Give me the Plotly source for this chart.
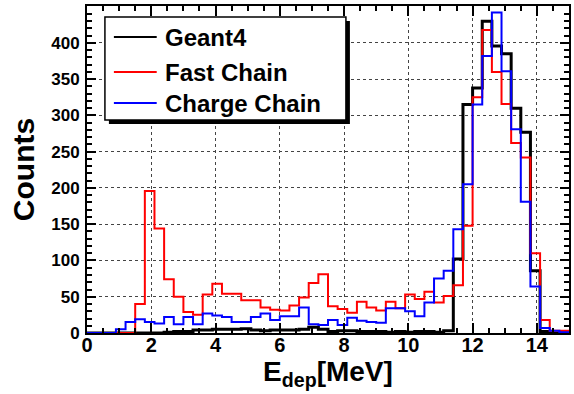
import numpy as np
import plotly.graph_objects as go

# 50 bins of 0.3 MeV from 0 to 15 MeV
bin_edges = np.linspace(0.0, 15.0, 51)

geant4 = [0, 0, 0, 0, 0, 0, 0, 0, 1, 2,
          2, 4, 4, 5, 5, 5, 6, 4, 3, 4,
          4, 4, 5, 8, 5, 2, 3, 3, 2, 2,
          2, 1, 2, 1, 2, 2, 1, 3, 102, 315,
          338, 430, 396, 385, 310, 277, 86, 2, 0, 0]

fast_chain = [0, 0, 0, 0, 0, 40, 196, 144, 74, 50,
              29, 25, 53, 68, 54, 54, 45, 45, 35, 32,
              31, 38, 49, 69, 81, 37, 33, 28, 43, 35,
              31, 43, 34, 53, 47, 57, 42, 51, 66, 148,
              325, 418, 360, 316, 262, 242, 110, 18, 3, 3]

charge_chain = [0, 0, 0, 5, 15, 19, 15, 13, 22, 12,
                22, 12, 27, 24, 22, 15, 15, 22, 27, 18,
                23, 23, 35, 12, 11, 18, 11, 21, 17, 15,
                14, 34, 34, 30, 23, 42, 75, 86, 143, 205,
                315, 382, 442, 361, 281, 181, 64, 7, 3, 1]

series = [
    ("Geant4", geant4, "black", 3),
    ("Fast Chain", fast_chain, "#ff0000", 2),
    ("Charge Chain", charge_chain, "#0000ff", 2),
]

W, H = 574, 394
L, R, T, B = 87, 3, 6, 61
PW, PH = W - L - R, H - T - B
FONT = "Liberation Sans"


def px_x(p):
    return (p - L) / PW


def px_y(p):
    return (H - B - p) / PH


fig = go.Figure()
for name, vals, color, width in series:
    fig.add_trace(go.Scatter(
        x=bin_edges,
        y=list(vals) + [vals[-1]],
        mode="lines",
        line=dict(color=color, width=width, shape="hv"),
        name=name,
        showlegend=False,
    ))

axis_common = dict(
    showline=True, linecolor="black", linewidth=2, mirror="allticks",
    ticks="inside", tickcolor="black", tickwidth=1.5,
    showgrid=True, gridcolor="#444444", gridwidth=1, griddash="dot",
    zeroline=False,
)

fig.update_xaxes(
    range=[0, 15], dtick=2, tick0=0, ticklen=10,
    tickfont=dict(family=FONT, size=20, color="black", weight="bold"),
    minor=dict(dtick=0.5, ticklen=5, ticks="inside", tickcolor="black", tickwidth=1.5, showgrid=False),
    title=dict(text="E<sub>dep</sub>[MeV]", font=dict(family=FONT, size=28, color="black", weight="bold"), standoff=5),
    ticklabelstandoff=-7,
    **axis_common,
)
fig.update_yaxes(
    range=[0, 451], dtick=50, tick0=0, ticklen=9,
    tickfont=dict(family=FONT, size=17, color="black", weight="bold"),
    minor=dict(dtick=10, ticklen=5, ticks="inside", tickcolor="black", tickwidth=1.5, showgrid=False),
    title=dict(text="Counts", font=dict(family=FONT, size=30, color="black", weight="bold"), standoff=8),
    ticklabelstandoff=2,
    **axis_common,
)

# Legend box with drop shadow
shapes = [
    dict(type="rect", xref="paper", yref="paper",
         x0=px_x(109), x1=px_x(351), y0=px_y(124), y1=px_y(21),
         fillcolor="black", line=dict(width=0), layer="above"),
    dict(type="rect", xref="paper", yref="paper",
         x0=px_x(105), x1=px_x(347), y0=px_y(120), y1=px_y(17),
         fillcolor="white", line=dict(color="black", width=1.5), layer="above"),
]
annotations = []
legend_rows = [37, 72, 103]
for (name, _vals, color, width), yrow in zip(series, legend_rows):
    shapes.append(dict(type="line", xref="paper", yref="paper",
                       x0=px_x(114), x1=px_x(157), y0=px_y(yrow), y1=px_y(yrow),
                       line=dict(color=color, width=2), layer="above"))
    annotations.append(dict(
        xref="paper", yref="paper", x=px_x(164), y=px_y(yrow),
        xanchor="left", yanchor="middle", showarrow=False, borderpad=0,
        text=name, font=dict(family=FONT, size=24, color="black", weight="bold"),
    ))

fig.update_layout(
    width=W, height=H,
    margin=dict(l=L, r=R, t=T, b=B),
    paper_bgcolor="white", plot_bgcolor="white",
    shapes=shapes, annotations=annotations,
    showlegend=False,
)

fig.write_html("out.html")
